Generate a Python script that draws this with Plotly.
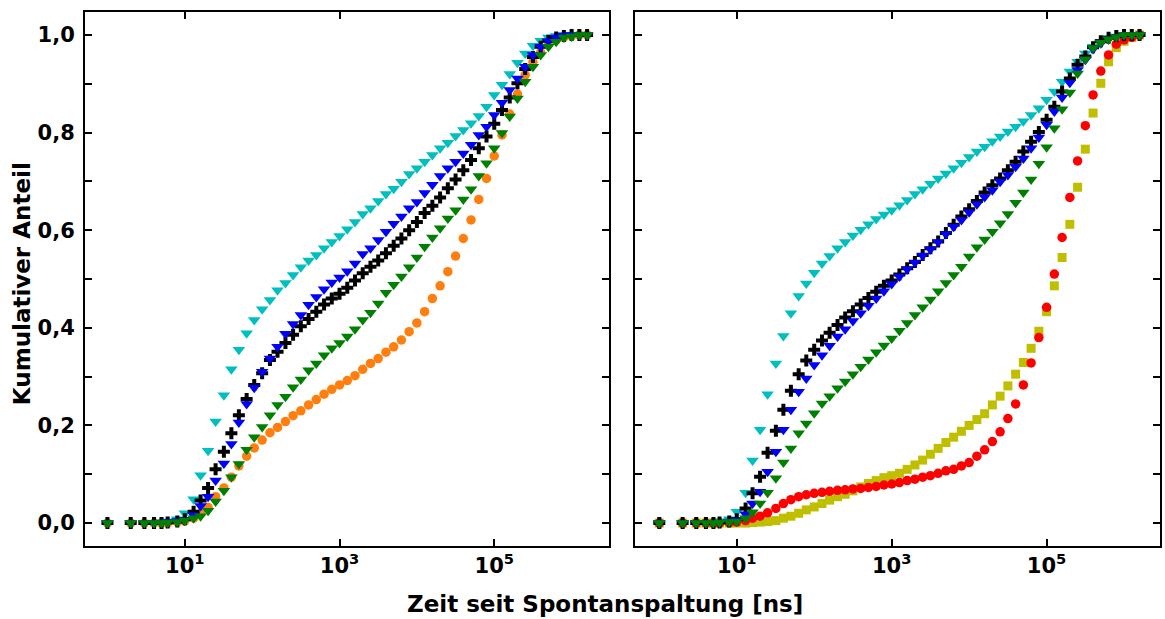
import plotly.graph_objects as go

# time grid [ns]
X = [1, 2, 3, 4, 5, 6, 8, 10, 13, 16, 20, 25, 32, 40, 50, 63, 79, 100, 126, 158, 200, 251, 316, 398,
     501, 631, 794, 1000, 1259, 1585, 1995, 2512, 3162, 3981, 5012, 6310, 7943, 10000, 12589, 15849,
     19953, 25119, 31623, 39811, 50119, 63096, 79433, 100000, 125893, 158489, 199526, 251189, 316228,
     398107, 501187, 630957, 794328, 1000000, 1258925, 1584893]

# left panel
orange_L = [0, 0, 0, 0, 0, 0, 0.002, 0.004, 0.010, 0.020, 0.032, 0.054, 0.072, 0.094, 0.117, 0.137, 0.154,
            0.170, 0.185, 0.196, 0.208, 0.220, 0.230, 0.242, 0.253, 0.264, 0.274,
            0.283, 0.292, 0.302, 0.315, 0.327, 0.337, 0.350, 0.361, 0.375, 0.392,
            0.410, 0.433, 0.460, 0.486, 0.515, 0.547, 0.583, 0.621, 0.663, 0.706,
            0.752, 0.795, 0.838, 0.879, 0.918, 0.945, 0.964, 0.980, 0.990, 0.995,
            0.998, 1.0, 1.0]
green_L = [0, 0, 0, 0, 0, 0.001, 0.002, 0.005, 0.010, 0.014, 0.025, 0.044, 0.066, 0.094, 0.121, 0.150, 0.176,
           0.197, 0.221, 0.242, 0.259, 0.278, 0.294, 0.313, 0.327, 0.344, 0.358,
           0.369, 0.382, 0.397, 0.416, 0.431, 0.450, 0.472, 0.488, 0.505, 0.524,
           0.544, 0.566, 0.585, 0.604, 0.624, 0.641, 0.663, 0.684, 0.711, 0.737,
           0.768, 0.799, 0.833, 0.870, 0.904, 0.935, 0.959, 0.976, 0.986, 0.995,
           0.997, 1.0, 1.0]
black_L = [0, 0, 0, 0, 0, 0.001, 0.003, 0.008, 0.023, 0.046, 0.072, 0.110, 0.146, 0.184, 0.221, 0.254, 0.283,
           0.307, 0.334, 0.351, 0.369, 0.386, 0.403, 0.418, 0.433, 0.448, 0.460,
           0.470, 0.482, 0.497, 0.512, 0.525, 0.538, 0.553, 0.568, 0.583, 0.600,
           0.617, 0.635, 0.650, 0.667, 0.686, 0.704, 0.723, 0.744, 0.768, 0.792,
           0.818, 0.846, 0.872, 0.901, 0.930, 0.955, 0.976, 0.988, 0.995, 0.998,
           1.0, 1.0, 1.0]
blue_L = [0, 0, 0, 0, 0.001, 0.002, 0.004, 0.006, 0.016, 0.035, 0.054, 0.087, 0.122, 0.162, 0.206, 0.244, 0.277,
          0.310, 0.337, 0.361, 0.388, 0.408, 0.426, 0.447, 0.463, 0.479, 0.493,
          0.503, 0.516, 0.532, 0.551, 0.563, 0.580, 0.597, 0.613, 0.628, 0.645,
          0.658, 0.676, 0.693, 0.711, 0.727, 0.740, 0.757, 0.775, 0.795, 0.812,
          0.836, 0.861, 0.887, 0.911, 0.935, 0.959, 0.976, 0.987, 0.995, 0.999,
          1.0, 1.0, 1.0]
cyan_L = [0, 0, 0, 0, 0.001, 0.003, 0.008, 0.020, 0.049, 0.098, 0.148, 0.208, 0.262, 0.315, 0.355, 0.389, 0.416,
          0.438, 0.457, 0.477, 0.492, 0.508, 0.524, 0.538, 0.549, 0.563, 0.576,
          0.588, 0.602, 0.617, 0.633, 0.645, 0.660, 0.674, 0.685, 0.699, 0.715,
          0.727, 0.740, 0.754, 0.768, 0.779, 0.793, 0.805, 0.819, 0.834, 0.853,
          0.877, 0.898, 0.920, 0.943, 0.962, 0.978, 0.988, 0.995, 0.998, 1.0,
          1.0, 1.0, 1.0]

# right panel
cyan_R = [0, 0, 0, 0, 0.001, 0.003, 0.008, 0.023, 0.062, 0.128, 0.191, 0.264, 0.327, 0.383, 0.430, 0.465, 0.491,
          0.513, 0.532, 0.547, 0.563, 0.576, 0.589, 0.601, 0.612, 0.623, 0.632,
          0.641, 0.651, 0.662, 0.674, 0.684, 0.695, 0.706, 0.716, 0.727, 0.738,
          0.750, 0.761, 0.771, 0.782, 0.792, 0.802, 0.812, 0.823, 0.836, 0.850,
          0.867, 0.884, 0.904, 0.925, 0.945, 0.962, 0.976, 0.986, 0.993, 0.997,
          1.0, 1.0, 1.0]
blue_R = [0, 0, 0, 0, 0, 0.001, 0.003, 0.006, 0.018, 0.040, 0.064, 0.105, 0.146, 0.191, 0.232, 0.269, 0.296,
          0.324, 0.344, 0.363, 0.382, 0.397, 0.414, 0.430, 0.445, 0.460, 0.475,
          0.490, 0.505, 0.520, 0.534, 0.548, 0.561, 0.576, 0.592, 0.607, 0.621,
          0.637, 0.653, 0.668, 0.682, 0.699, 0.713, 0.730, 0.747, 0.768, 0.790,
          0.816, 0.843, 0.872, 0.902, 0.928, 0.949, 0.971, 0.983, 0.991, 0.996,
          1.0, 1.0, 1.0]
black_R = [0, 0, 0, 0, 0, 0.001, 0.003, 0.008, 0.030, 0.061, 0.095, 0.144, 0.189, 0.232, 0.271, 0.305, 0.333,
           0.355, 0.374, 0.390, 0.406, 0.421, 0.434, 0.448, 0.461, 0.474, 0.486,
           0.497, 0.509, 0.522, 0.535, 0.549, 0.563, 0.577, 0.594, 0.611, 0.628,
           0.643, 0.660, 0.677, 0.692, 0.706, 0.723, 0.740, 0.761, 0.781, 0.801,
           0.826, 0.853, 0.884, 0.911, 0.939, 0.956, 0.975, 0.987, 0.994, 0.998,
           1.0, 1.0, 1.0]
green_R = [0, 0, 0, 0, 0, 0.001, 0.002, 0.003, 0.010, 0.022, 0.040, 0.062, 0.092, 0.124, 0.153, 0.184, 0.204,
           0.225, 0.245, 0.260, 0.276, 0.290, 0.305, 0.320, 0.335, 0.350, 0.364,
           0.378, 0.394, 0.410, 0.426, 0.442, 0.458, 0.475, 0.492, 0.508, 0.525,
           0.546, 0.565, 0.581, 0.597, 0.614, 0.633, 0.656, 0.677, 0.704, 0.736,
           0.770, 0.809, 0.848, 0.882, 0.921, 0.950, 0.973, 0.984, 0.991, 0.996,
           1.0, 1.0, 1.0]
yellow_R = [0, 0, 0, 0, 0, 0, 0, 0, 0, 0.001, 0.002, 0.003, 0.005, 0.010, 0.014, 0.020, 0.027,
            0.033, 0.040, 0.047, 0.054, 0.059, 0.066, 0.074, 0.081, 0.087, 0.093,
            0.097, 0.102, 0.110, 0.119, 0.129, 0.141, 0.153, 0.165, 0.176, 0.188,
            0.200, 0.212, 0.224, 0.242, 0.260, 0.281, 0.305, 0.329, 0.358, 0.393,
            0.433, 0.486, 0.544, 0.612, 0.688, 0.766, 0.840, 0.901, 0.945, 0.974,
            0.987, 0.995, 1.0]
red_R = [0, 0, 0, 0, 0, 0, 0.001, 0.002, 0.005, 0.010, 0.014, 0.021, 0.030, 0.040, 0.048, 0.054, 0.058,
         0.061, 0.063, 0.065, 0.067, 0.068, 0.070, 0.071, 0.073, 0.075, 0.078,
         0.080, 0.083, 0.087, 0.090, 0.094, 0.097, 0.102, 0.107, 0.110, 0.117,
         0.124, 0.137, 0.150, 0.167, 0.187, 0.214, 0.244, 0.283, 0.328, 0.380,
         0.442, 0.510, 0.585, 0.667, 0.742, 0.814, 0.877, 0.926, 0.959, 0.981,
         0.990, 0.995, 1.0]

Y_TICKS = [0.0, 0.2, 0.4, 0.6, 0.8, 1.0]
Y_LABELS = ["0,0", "0,2", "0,4", "0,6", "0,8", "1,0"]
Y_MINOR = [0.1, 0.3, 0.5, 0.7, 0.9]
X_TICKS = [10, 1000, 100000]
X_LABELS = ["10<sup>1</sup>", "10<sup>3</sup>", "10<sup>5</sup>"]

CYAN, BLUE, BLACK, GREEN = "#00BFBF", "#0000FF", "#000000", "#008000"
ORANGE, YELLOW, RED = "#FF7F0E", "#BFBF00", "#FF0000"

fig = go.Figure()

def add(y, color, symbol, size, xa, ya):
    fig.add_trace(go.Scatter(x=X, y=y, mode="markers", xaxis=xa, yaxis=ya, showlegend=False,
                             marker=dict(color=color, symbol=symbol, size=size, line=dict(width=0))))

TRI, CIR, SQ, CR = "triangle-down", "circle", "square", "cross"
add(orange_L, ORANGE, CIR, 9.5, "x", "y")
add(cyan_L, CYAN, TRI, 11, "x", "y")
add(black_L, BLACK, CR, 10, "x", "y")
add(blue_L, BLUE, TRI, 11, "x", "y")
add(green_L, GREEN, TRI, 11, "x", "y")

add(yellow_R, YELLOW, SQ, 9, "x2", "y2")
add(red_R, RED, CIR, 9.5, "x2", "y2")
add(cyan_R, CYAN, TRI, 11, "x2", "y2")
add(black_R, BLACK, CR, 10, "x2", "y2")
add(blue_R, BLUE, TRI, 11, "x2", "y2")
add(green_R, GREEN, TRI, 11, "x2", "y2")

tickfont = dict(family="DejaVu Sans", size=21, color="black", weight="bold")
titlefont = dict(family="DejaVu Sans", size=23, color="black", weight="bold")
common = dict(showline=True, linecolor="black", linewidth=2, mirror="ticks", ticks="inside",
              ticklen=7, tickwidth=2, tickcolor="black", showgrid=False, zeroline=False,
              tickfont=tickfont)
minor_y = dict(tickvals=Y_MINOR, ticks="inside", ticklen=7, tickwidth=2, tickcolor="black", showgrid=False)

fig.update_layout(
    width=1165, height=619,
    margin=dict(l=85, r=3, t=12, b=73),
    plot_bgcolor="white", paper_bgcolor="white",
    xaxis=dict(domain=[0, 0.4875], type="log", range=[-0.29, 6.484], anchor="y",
               tickmode="array", tickvals=X_TICKS, ticktext=X_LABELS, **common),
    xaxis2=dict(domain=[0.5116, 1], type="log", range=[-0.314, 6.464], anchor="y2",
                tickmode="array", tickvals=X_TICKS, ticktext=X_LABELS, **common),
    yaxis=dict(domain=[0, 1], range=[-0.047, 1.047], anchor="x", ticklabelstandoff=4,
               tickmode="array", tickvals=Y_TICKS, ticktext=Y_LABELS, minor=minor_y, **common),
    yaxis2=dict(domain=[0, 1], range=[-0.047, 1.047], anchor="x2", matches="y",
                tickmode="array", tickvals=Y_TICKS, showticklabels=False, minor=minor_y, **common),
    annotations=[
        dict(text="Zeit seit Spontanspaltung [ns]", xref="paper", yref="paper",
             x=0.4837, y=-0.1086, xanchor="center", yanchor="middle", showarrow=False,
             font=titlefont),
        dict(text="Kumulativer Anteil", xref="paper", yref="paper", textangle=-90,
             x=-0.0585, y=0.4906, xanchor="center", yanchor="middle", showarrow=False,
             font=titlefont),
    ],
)

fig.write_html("out.html")
